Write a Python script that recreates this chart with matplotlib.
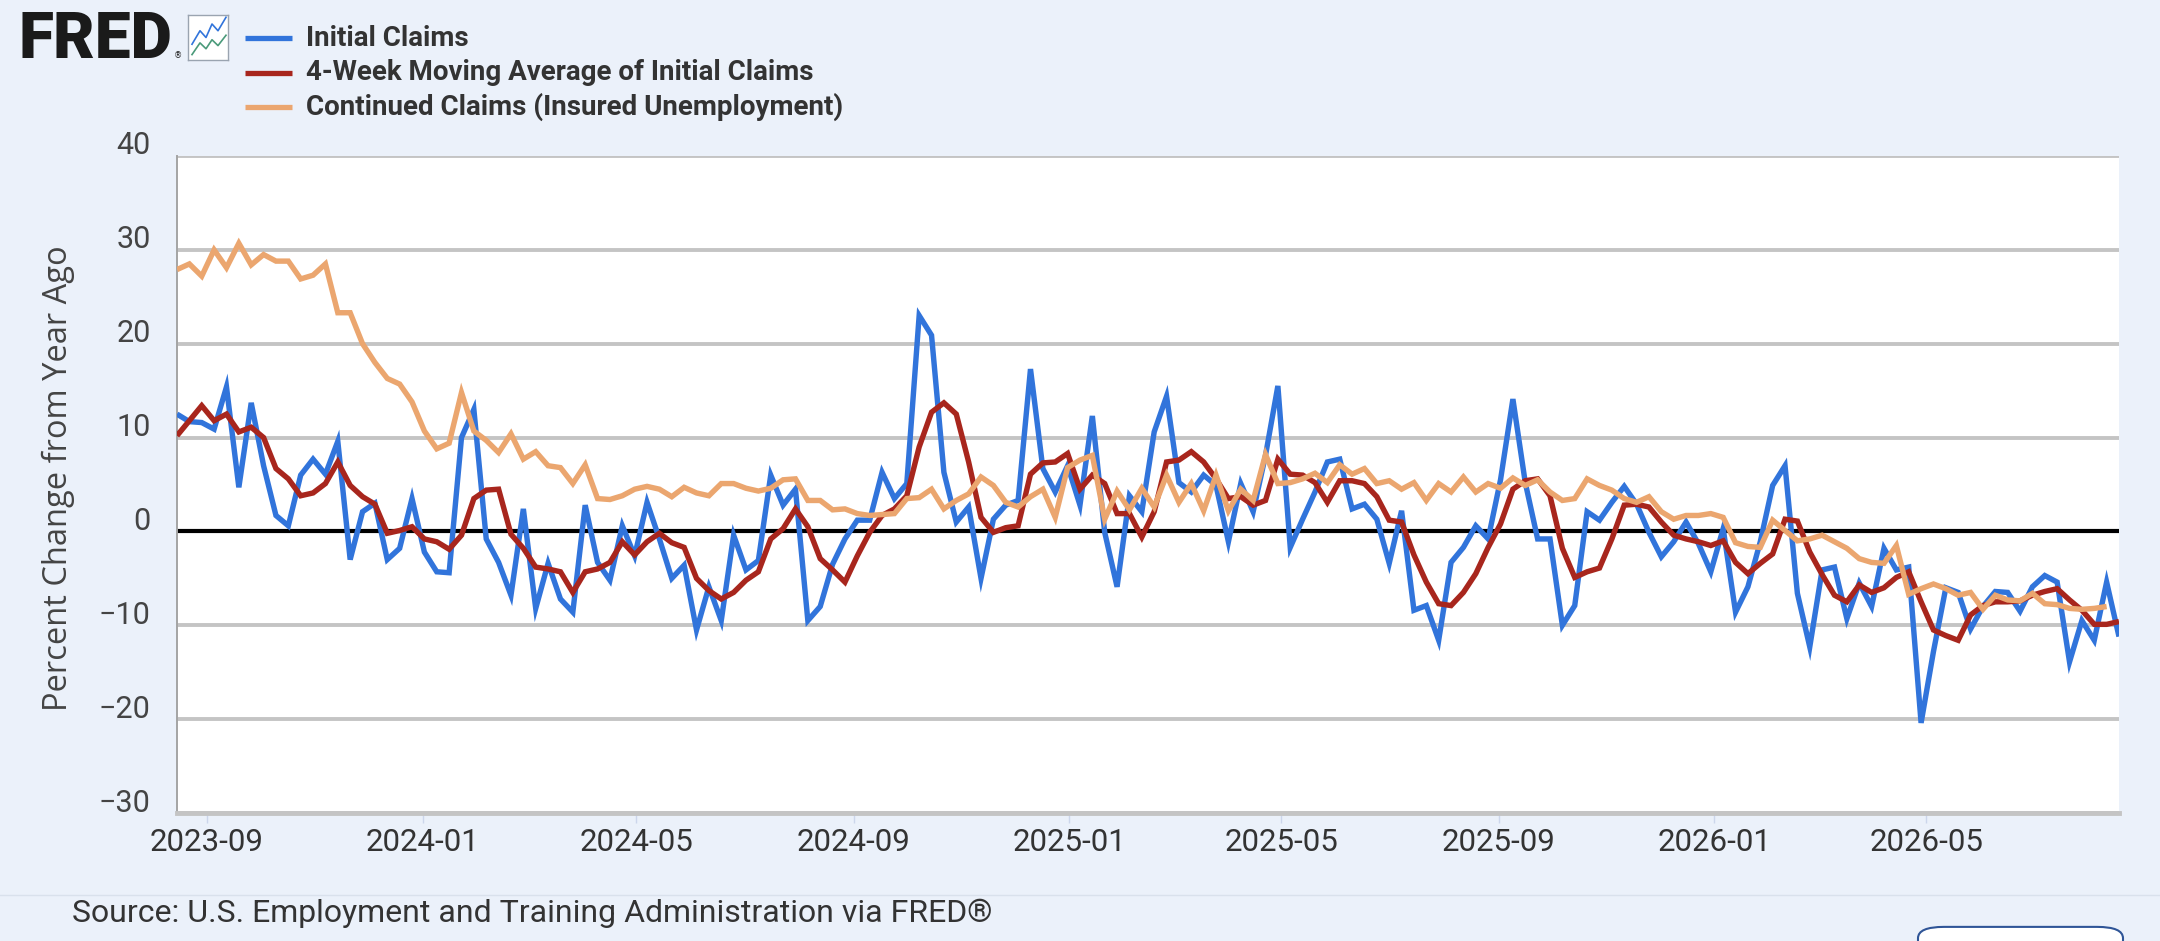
import matplotlib

matplotlib.use("Agg")
import matplotlib.pyplot as plt
import matplotlib.dates as mdates
import pandas as pd
from matplotlib.lines import Line2D
from matplotlib.patches import FancyBboxPatch
from matplotlib.transforms import ScaledTranslation

# weekly observations, percent change from a year ago
START = "2023-08-15"

initial_claims = [
    12.5, 11.7, 11.6, 10.9, 15.4, 4.7, 13.7, 7.0, 1.7, 0.6,
    6.0, 7.7, 6.1, 9.6, -3.0, 2.1, 3.0, -3.0, -1.8, 3.5,
    -2.2, -4.3, -4.4, 10.0, 13.0, -0.8, -3.3, -6.8, 2.4, -8.2,
    -3.4, -7.2, -8.6, 2.8, -3.3, -5.2, 0.6, -2.6, 3.1, -0.8,
    -5.0, -3.6, -10.5, -5.9, -9.5, -0.4, -4.1, -3.1, 6.0, 2.8,
    4.5, -9.5, -8.0, -3.5, -0.8, 1.2, 1.2, 6.3, 3.5, 5.1,
    23.0, 20.9, 6.3, 1.0, 2.6, -5.0, 1.3, 2.8, 3.3, 17.3,
    6.7, 4.2, 7.0, 2.8, 12.3, -0.1, -5.9, 3.8, 2.1, 10.6,
    14.4, 5.2, 4.2, 6.0, 4.9, -1.1, 5.1, 2.1, 8.1, 15.5,
    -1.7, 1.3, 4.2, 7.4, 7.7, 2.4, 2.9, 1.3, -3.4, 2.2,
    -8.4, -7.9, -11.6, -3.3, -1.7, 0.6, -0.8, 5.5, 14.1, 5.2,
    -0.8, -0.8, -10.0, -7.9, 2.1, 1.2, 3.1, 4.8, 2.9, -0.1,
    -2.7, -1.1, 1.0, -1.3, -4.3, 0.3, -8.6, -5.9, -1.1, 4.9,
    7.0, -6.6, -12.3, -4.1, -3.8, -9.3, -5.5, -8.0, -1.8, -4.1,
    -3.8, -20.4, -12.8, -6.0, -6.5, -10.4, -8.0, -6.4, -6.5, -8.5,
    -5.9, -4.7, -5.4, -13.9, -9.5, -11.6, -5.4, -11.2,
]

moving_average = [
    10.2, 11.8, 13.4, 11.8, 12.5, 10.6, 11.1, 10.0, 6.7, 5.6,
    3.8, 4.1, 5.1, 7.4, 4.9, 3.7, 2.9, -0.2, 0.1, 0.5,
    -0.8, -1.1, -1.9, -0.4, 3.5, 4.4, 4.5, -0.3, -1.8, -3.8,
    -4.0, -4.3, -6.5, -4.3, -4.0, -3.3, -1.1, -2.5, -1.1, -0.2,
    -1.2, -1.7, -5.0, -6.3, -7.2, -6.5, -5.2, -4.3, -0.8, 0.3,
    2.4, 0.5, -2.9, -4.1, -5.4, -2.6, -0.1, 1.7, 2.4, 3.8,
    9.0, 12.7, 13.7, 12.5, 7.4, 1.5, -0.1, 0.4, 0.6, 6.1,
    7.3, 7.4, 8.3, 4.5, 6.0, 5.1, 1.9, 1.9, -0.6, 2.1,
    7.4, 7.6, 8.5, 7.4, 5.6, 3.5, 3.7, 2.8, 3.3, 7.7,
    6.1, 6.0, 5.2, 3.1, 5.4, 5.4, 5.1, 3.7, 1.2, 1.0,
    -2.5, -5.4, -7.7, -7.9, -6.5, -4.5, -1.7, 0.8, 4.5, 5.4,
    5.6, 3.8, -1.8, -4.9, -4.3, -3.9, -0.8, 2.8, 2.9, 2.6,
    1.0, -0.4, -0.8, -1.1, -1.5, -1.0, -3.3, -4.5, -3.4, -2.4,
    1.3, 1.1, -2.2, -4.6, -6.8, -7.5, -5.7, -6.5, -6.0, -4.9,
    -4.3, -7.5, -10.5, -11.1, -11.6, -8.9, -7.9, -7.5, -7.5, -7.4,
    -6.8, -6.4, -6.1, -7.3, -8.4, -9.9, -9.9, -9.6,
]

continued_claims = [
    27.9, 28.5, 27.2, 30.0, 28.1, 30.7, 28.4, 29.5, 28.8, 28.8,
    26.9, 27.3, 28.5, 23.3, 23.3, 20.0, 18.0, 16.3, 15.7, 13.8,
    10.7, 8.8, 9.4, 14.8, 10.7, 9.7, 8.4, 10.4, 7.7, 8.5,
    7.0, 6.8, 5.1, 7.1, 3.5, 3.4, 3.8, 4.5, 4.8, 4.5,
    3.7, 4.7, 4.1, 3.8, 5.1, 5.1, 4.6, 4.3, 4.6, 5.5,
    5.6, 3.3, 3.3, 2.3, 2.4, 1.9, 1.7, 1.8, 1.9, 3.5,
    3.6, 4.5, 2.4, 3.3, 4.0, 5.8, 4.9, 3.1, 2.6, 3.7,
    4.5, 1.5, 6.8, 7.6, 8.1, 1.3, 4.3, 2.3, 4.6, 2.6,
    6.0, 3.1, 5.1, 2.2, 6.0, 2.2, 4.5, 3.3, 8.2, 5.1,
    5.2, 5.6, 6.2, 5.2, 7.1, 6.1, 6.7, 5.1, 5.4, 4.5,
    5.2, 3.3, 5.1, 4.2, 5.8, 4.2, 5.1, 4.6, 5.7, 4.9,
    5.5, 4.2, 3.3, 3.5, 5.6, 4.9, 4.4, 3.5, 3.1, 3.7,
    2.1, 1.3, 1.7, 1.7, 1.9, 1.5, -1.2, -1.6, -1.7, 1.2,
    0.1, -1.0, -0.8, -0.4, -1.1, -1.8, -2.9, -3.3, -3.4, -1.5,
    -6.7, -6.1, -5.6, -6.1, -6.8, -6.5, -8.3, -6.8, -7.3, -7.4,
    -6.6, -7.7, -7.8, -8.2, -8.3, -8.2, -8.0,
]

y_ticks = [-30, -20, -10, 0, 10, 20, 30, 40]
x_ticks = ["2023-09-01", "2024-01-01", "2024-05-01", "2024-09-01", "2025-01-01",
           "2025-05-01", "2025-09-01", "2026-01-01", "2026-05-01"]

# (label, values, color)
SERIES = [
    ("Initial Claims", initial_claims, "#3174db"),
    ("4-Week Moving Average of Initial Claims", moving_average, "#a8261d"),
    ("Continued Claims (Insured Unemployment)", continued_claims, "#eba66f"),
]

BG = "#ebf1fa"
TEXT = "#333333"
SANS = ["Roboto", "DejaVu Sans"]

W, H = 2160, 941
fig = plt.figure(figsize=(W / 100, H / 100), dpi=100, facecolor=BG)
ax = fig.add_axes([177 / W, 1 - 813 / H, (2119 - 177) / W, (813 - 156) / H])
ax.set_facecolor("white")

dates = pd.date_range(START, periods=len(initial_claims), freq="7D")
for label, vals, color in SERIES:
    ax.plot(dates[: len(vals)], vals, color=color, lw=3.9, solid_joinstyle="miter",
            solid_capstyle="butt", zorder=3)

ax.axhline(0, color="black", lw=3.0, zorder=2)
ax.set_xlim(dates[0], dates[-1])
ax.set_ylim(-30, 40)

ax.set_yticks(y_ticks)
ax.yaxis.grid(True, color="#c4c4c4", lw=2.8)
ax.set_axisbelow(True)
for side in ("top", "right"):
    ax.spines[side].set_visible(False)
ax.spines["bottom"].set_color("#c4c4c4")
ax.spines["bottom"].set_linewidth(3.5)
ax.spines["left"].set_color("#a4a4a4")
ax.spines["left"].set_linewidth(1.4)

ax.set_xticks(pd.to_datetime(x_ticks))
ax.xaxis.set_major_formatter(mdates.DateFormatter("%Y-%m"))
ax.tick_params(axis="x", length=7, width=1, color="#ccd6eb", pad=4,
               labelsize=22.5, labelcolor=TEXT)
ax.tick_params(axis="y", length=0, pad=19, labelsize=22, labelcolor="#444444")
for lab in ax.get_xticklabels() + ax.get_yticklabels():
    lab.set_family(SANS)
# FRED draws the value labels a little above their grid lines
shift = ScaledTranslation(0, 0.13, fig.dpi_scale_trans)
for lab in ax.get_yticklabels():
    lab.set_transform(lab.get_transform() + shift)

fig.text(58 / W, 1 - 478 / H, "Percent Change from Year Ago", rotation=90,
         ha="center", va="center", fontsize=23.5, color="#444444",
         family=["Open Sans", "DejaVu Sans"])

# legend in the header
for i, (label, vals, color) in enumerate(SERIES):
    y = 1 - (38 + 34.5 * i) / H
    fig.add_artist(Line2D([245 / W, 292 / W], [y, y], transform=fig.transFigure,
                          color=color, lw=3.8, solid_capstyle="butt"))
    fig.text(306 / W, y, label, ha="left", va="center", fontsize=20,
             fontweight="bold", color=TEXT, family=SANS)

# FRED logo
fig.text(18 / W, 1 - 40 / H, "FRED", ha="left", va="center", fontsize=46,
         fontweight="black", color="#1a1a1a", family=SANS)
fig.text(174 / W, 1 - 56 / H, "®", ha="left", va="center", fontsize=6,
         color="#1a1a1a", family=["DejaVu Sans"])
icon = fig.add_axes([188 / W, 1 - 60 / H, 40 / W, 45 / H])
icon.set_facecolor("white")
icon.set_xticks([])
icon.set_yticks([])
for sp in icon.spines.values():
    sp.set_color("#9aa4b0")
    sp.set_linewidth(1)
icon.plot([0.1, 0.3, 0.45, 0.6, 0.75, 0.95], [0.35, 0.65, 0.5, 0.8, 0.65, 0.95],
          color="#3174db", lw=1.2)
icon.plot([0.1, 0.3, 0.45, 0.6, 0.75, 0.95], [0.12, 0.38, 0.25, 0.45, 0.32, 0.55],
          color="#4a9a7a", lw=1.2)
icon.set_xlim(0, 1)
icon.set_ylim(0, 1)

# footer
fig.add_artist(Line2D([0, 1], [1 - 895 / H] * 2, transform=fig.transFigure,
                      color="#d9e1ec", lw=1))
fig.text(72 / W, 1 - 913 / H, "Source: U.S. Employment and Training Administration via FRED®",
         ha="left", va="center", fontsize=23, color=TEXT, family=SANS)
fig.add_artist(FancyBboxPatch((1918 / W, -0.03), 205 / W, 0.045,
                              boxstyle="round,pad=0,rounding_size=0.012",
                              transform=fig.transFigure, facecolor="white",
                              edgecolor="#2f5597", lw=1.5))

fig.savefig("out.png", dpi=100, facecolor=BG)
